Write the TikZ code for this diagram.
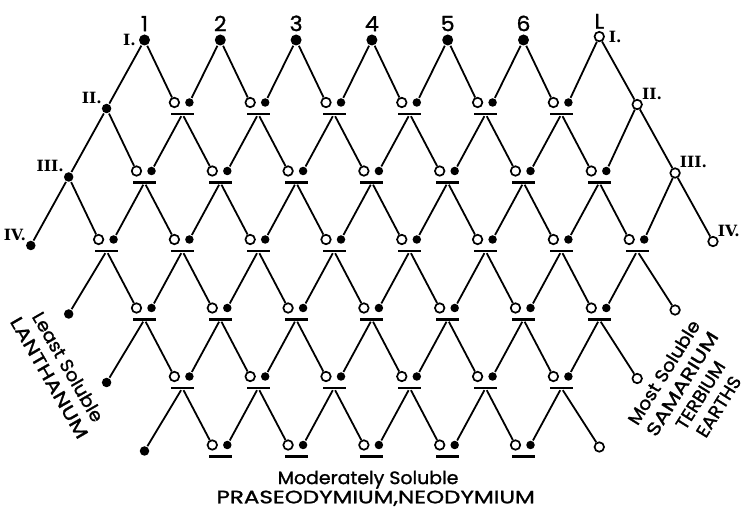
\documentclass[tikz,border=0pt]{standalone}
\usepackage{fontspec}
\newfontfamily\labelfont[FakeBold=1.3,FakeStretch=1.05]{Poppins}
\newfontfamily\capsfont[FakeBold=1.3,FakeStretch=1.28]{Poppins}
\newfontfamily\romanfont{DejaVu Serif}
\usetikzlibrary{positioning}

\tikzset{
  full/.style={circle,fill,inner sep=0pt,minimum size=8.5pt},
  big/.style={full,minimum size=11pt},
  hollow/.style={circle,draw,line width=1.7pt,fill=white,inner sep=0pt,minimum size=9.5pt},
  bar/.style={fill,inner sep=0pt,minimum width=23pt,minimum height=2.6pt},
  num/.style={font=\labelfont\fontsize{21}{21}\selectfont,inner sep=0pt},
  roman/.style={font=\romanfont\fontsize{15.5}{15.5}\selectfont\bfseries,inner sep=0pt},
  caption/.style={font=\labelfont\fontsize{18}{21.5}\selectfont,inner sep=0pt,align=center},
}

\begin{document}
\begin{tikzpicture}[x=37.9pt,y=68.5pt,line width=1.8pt]
 \useasboundingbox (-0.8127,-6.891) rectangle (18.950,0.584);
 % top row: fractions 1 to 6 and the mother liquor L
 \foreach \j in {3,5,...,13}
   \node[big] (b-1-\j) at (\j,0) {};
 \node[hollow] (b-1-15) at (15,0.05) {};
 \foreach \j/\t in {3/1,5/2,7/3,9/4,11/5,13/6,15/L}
   \node[num,above=1.5pt of b-1-\j] (n-\t) {\t};
 % end points of every row
 \foreach \k/\j in {2/2,3/1,4/0,5/1,6/2,7/3}
   \node[full,minimum size=9.5pt,alias=f-\k-\j] (b-\k-\j) at (\j,1-\k) {};
 \foreach \k/\j in {2/16,3/17,4/18,5/17,6/16,7/15}
   \node[hollow,alias=o-\k-\j] (b-\k-\j) at ([yshift=4pt]\j,1-\k) {};
 % crystals and liquor put together
 \foreach \k/\a/\z in {2/4/14,3/3/15,4/2/16,5/3/15,6/4/14,7/5/13} {
   \pgfmathtruncatemacro\nx{\a+2}
   \foreach \j in {\a,\nx,...,\z} {
     \node[hollow] (o-\k-\j) at ([xshift=-8pt,yshift=6pt]\j,1-\k) {};
     \node[full] (f-\k-\j) at ([xshift=7pt,yshift=6pt]\j,1-\k) {};
     \node[bar] (b-\k-\j) at ([yshift=-5.5pt]\j,1-\k) {};
   }
 }
 % each one splits in two
 \foreach \k/\a/\z in {1/3/15,2/2/16,3/1/17,4/2/16,5/3/15,6/4/14} {
   \pgfmathtruncatemacro\nk{\k+1}
   \pgfmathtruncatemacro\nx{\a+2}
   \foreach \j in {\a,\nx,...,\z} {
     \pgfmathtruncatemacro\l{\j-1}
     \pgfmathtruncatemacro\r{\j+1}
     \draw (b-\k-\j) -- (f-\nk-\l);
     \draw (b-\k-\j) -- (o-\nk-\r);
   }
 }
 \node[roman,left=1.5pt of b-1-3] (l-1) {I.};
 \node[roman,anchor=south east] (l-2) at (b-2-2.north west) {II.};
 \node[roman,anchor=south east] (l-3) at (b-3-1.north west) {III.};
 \node[roman,anchor=south east] (l-4) at (b-4-0.north west) {IV.};
 \node[roman,right=3pt of b-1-15] (r-1) {I.};
 \node[roman,anchor=south west] (r-2) at (b-2-16.north east) {II.};
 \node[roman,anchor=south west] (r-3) at (b-3-17.north east) {III.};
 \node[roman,anchor=south west] (r-4) at (b-4-18.north east) {IV.};
 \node[caption,rotate=-60] (least) at (0.74,-4.85) {Least Soluble\\\capsfont LANTHANUM};
 \node[caption,rotate=58] (most) at (17.42,-5.1) {Most Soluble\\\capsfont SAMARIUM\\TERBIUM\\EARTHS};
 \node[caption] (mod) at (8.9,-6.42) {Moderately Soluble};
 \node[caption,font=\capsfont\fontsize{18}{21.5}\selectfont] (pra) at (9.1,-6.69) {PRASEODYMIUM,NEODYMIUM};
\end{tikzpicture}
\end{document}
